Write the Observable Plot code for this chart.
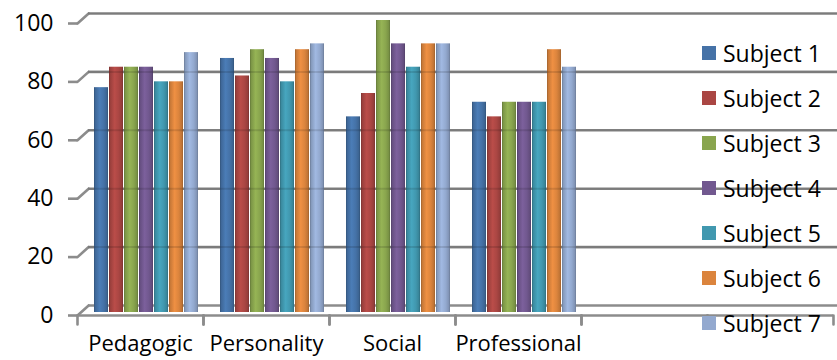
<!DOCTYPE html>
<html><head><meta charset="utf-8">
<script src="https://cdn.jsdelivr.net/npm/d3@7"></script>
<script src="https://cdn.jsdelivr.net/npm/@observablehq/plot@0.6"></script>
<style>
body{margin:0;background:#fff;}
#wrap{position:relative;width:837px;height:360px;overflow:hidden;font-family:"Open Sans",sans-serif;background:#fff;}
#legend{position:absolute;left:702px;top:0;width:135px;height:360px;}
.item{position:absolute;left:0;height:30px;display:flex;align-items:center;white-space:nowrap;font-size:23px;color:#000;}
.sw{width:14px;height:14px;margin-right:7px;flex:none;}
</style></head><body><div id="wrap"></div>
<script>
const categories = ["Pedagogic", "Personality", "Social", "Professional"];
const emptySlots = [" ", "  "];
const subjects = ["Subject 1", "Subject 2", "Subject 3", "Subject 4", "Subject 5", "Subject 6", "Subject 7"];
const subject1 = [77, 87, 67, 72];
const subject2 = [84, 81, 75, 67];
const subject3 = [84, 90, 100, 72];
const subject4 = [84, 87, 92, 72];
const subject5 = [79, 79, 84, 72];
const subject6 = [79, 90, 92, 90];
const subject7 = [89, 92, 92, 84];
const colors = ["#4572A7", "#AA4643", "#89A54E", "#71588F", "#4198AF", "#DB843D", "#93A9CF"];
const yTicks = [0, 20, 40, 60, 80, 100];

const series = [subject1, subject2, subject3, subject4, subject5, subject6, subject7];
const slots = [...categories, ...emptySlots];
const rows = categories.flatMap((c, ci) => subjects.map((s, si) => ({category: c, subject: s, value: series[si][ci], idx: si})));
const gridData = slots.flatMap(s => yTicks.map(v => ({slot: s, value: v})));
const grid = "#8c8c8c";

const plot = Plot.plot({
  width: 837, height: 360,
  marginLeft: 76, marginRight: 4, marginTop: 23, marginBottom: 45,
  style: {fontFamily: '"Open Sans", sans-serif', fontSize: "23px", color: "#000", background: "#fff"},
  fx: {domain: slots, padding: 0, label: null, axis: null},
  x: {domain: subjects, paddingInner: 0.08, paddingOuter: 0.685, axis: null},
  y: {domain: [0, 100], axis: null},
  color: {type: "identity"},
  marks: [
    Plot.ruleY(gridData, {fx: "slot", y: "value", stroke: grid, strokeWidth: 2.6, dx: 11, dy: -10}),
    Plot.vector(yTicks, {fx: () => categories[0], y: d => d, frameAnchor: "left", length: 15, rotate: 48, anchor: "start", r: 0, stroke: grid, strokeWidth: 2.6}),
    Plot.ruleY([0], {stroke: grid, strokeWidth: 2.6}),
    Plot.barY(rows, {fx: "category", x: "subject", y: "value", fill: d => `url(#grad${d.idx})`, dx: 6, dy: -3}),
    Plot.ruleY(gridData.filter(d => d.value > 0), {fx: "slot", y: "value", stroke: "#000", strokeOpacity: 0.12, strokeWidth: 2, dx: 11, dy: -10}),
    Plot.vector([0], {frameAnchor: "bottom-left", length: 9, rotate: 180, anchor: "start", r: 0, stroke: grid, strokeWidth: 2.6}),
    Plot.vector([0], {frameAnchor: "bottom-right", length: 9, rotate: 180, anchor: "start", r: 0, stroke: grid, strokeWidth: 2.6}),
    Plot.axisY(yTicks, {tickSize: 9, tickPadding: 15, line: true, stroke: grid, strokeWidth: 2.6, fill: "#000", fontSize: 23, tickFormat: d => String(d), label: null}),
    Plot.axisFx({anchor: "bottom", tickSize: 0, tickPadding: 20, fontSize: 22, fill: "#000", tickFormat: d => d.trim(), label: null})
  ]
});

// gradient definitions for the cylinder-like bars
const ns = "http://www.w3.org/2000/svg";
const svgEl = plot.tagName.toLowerCase() === "svg" ? plot : plot.querySelector("svg");
const defs = document.createElementNS(ns, "defs");
colors.forEach((c, i) => {
  const g = document.createElementNS(ns, "linearGradient");
  g.setAttribute("id", "grad" + i);
  g.setAttribute("x1", "0"); g.setAttribute("x2", "1"); g.setAttribute("y1", "0"); g.setAttribute("y2", "0");
  const base = d3.color(c);
  const stops = [[0, base.darker(0.9)], [0.1, base.darker(0.25)], [0.4, base.brighter(0.25)], [0.7, base], [0.9, base.darker(0.35)], [1, base.darker(0.9)]];
  for (const [o, col] of stops) {
    const s = document.createElementNS(ns, "stop");
    s.setAttribute("offset", o);
    s.setAttribute("stop-color", col.formatHex());
    g.appendChild(s);
  }
  defs.appendChild(g);
});
svgEl.insertBefore(defs, svgEl.firstChild);

const wrap = document.getElementById("wrap");
wrap.appendChild(plot);

const legend = document.createElement("div");
legend.id = "legend";
subjects.forEach((s, i) => {
  const item = document.createElement("div");
  item.className = "item";
  item.style.top = (38 + i * 45) + "px";
  const sw = document.createElement("span");
  sw.className = "sw";
  sw.style.background = colors[i];
  const t = document.createElement("span");
  t.textContent = s;
  item.appendChild(sw); item.appendChild(t);
  legend.appendChild(item);
});
wrap.appendChild(legend);
</script>
</body></html>
